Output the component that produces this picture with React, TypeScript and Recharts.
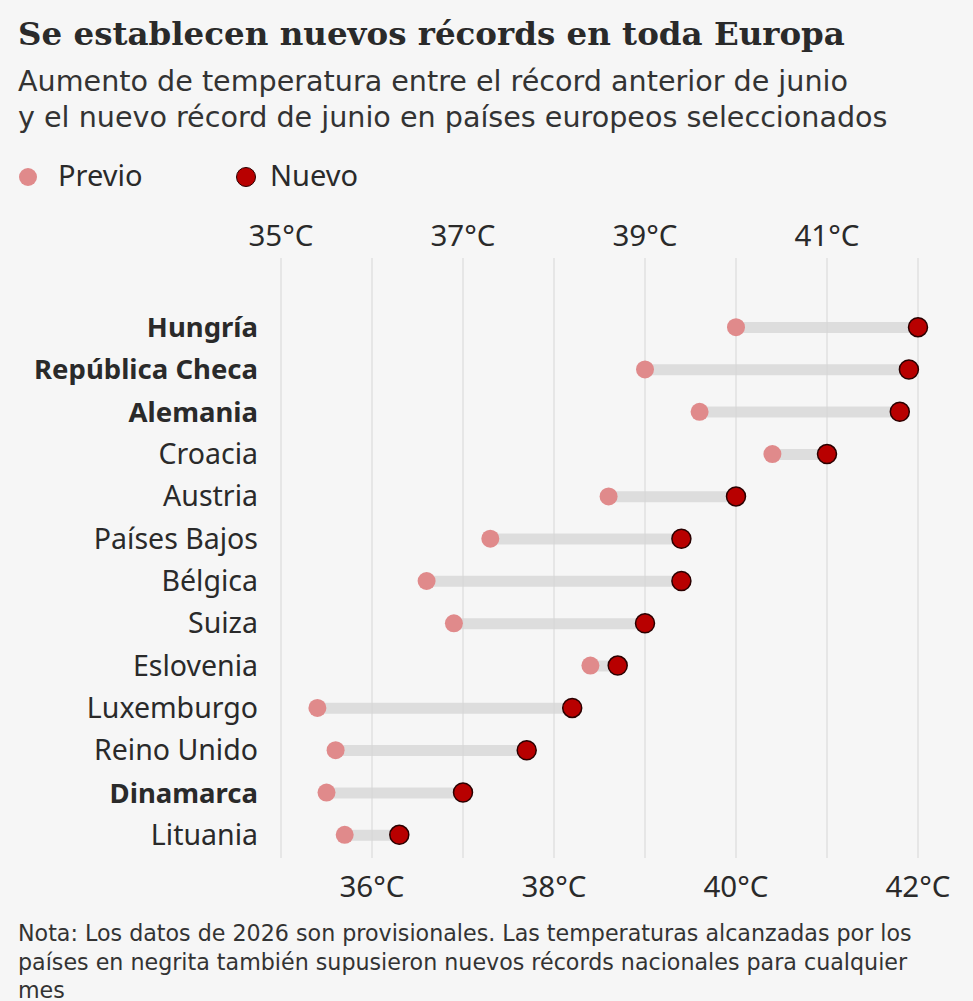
import React from "react";
import {
  ComposedChart,
  Bar,
  Line,
  XAxis,
  YAxis,
  ReferenceLine,
} from "recharts";

const countries = [
  "Hungría",
  "República Checa",
  "Alemania",
  "Croacia",
  "Austria",
  "Países Bajos",
  "Bélgica",
  "Suiza",
  "Eslovenia",
  "Luxemburgo",
  "Reino Unido",
  "Dinamarca",
  "Lituania",
];
const previousRecord = [40.0, 39.0, 39.6, 40.4, 38.6, 37.3, 36.6, 36.9, 38.4, 35.4, 35.6, 35.5, 35.7];
const newRecord = [42.0, 41.9, 41.8, 41.0, 40.0, 39.4, 39.4, 39.0, 38.7, 38.2, 37.7, 37.0, 36.3];
const boldCountries = ["Hungría", "República Checa", "Alemania", "Dinamarca"];

const topTicks = [35, 37, 39, 41];
const bottomTicks = [36, 38, 40, 42];
const gridTicks = [35, 36, 37, 38, 39, 40, 41, 42];

const data = countries.map((name, i) => ({
  name,
  prev: previousRecord[i],
  next: newRecord[i],
}));

const SANS = "'Noto Sans', 'Open Sans', sans-serif";
const WIDE_SANS = "'DejaVu Sans', 'Noto Sans', sans-serif";
const TEXT = "#2a2a2a";
const PREV_COLOR = "#e08a8b";
const NEW_COLOR = "#b80000";
const TICK_STYLE = { fontFamily: SANS, fontSize: 29.5, fill: TEXT };

function CountryTick({ x, y, payload }: any) {
  const bold = boldCountries.includes(payload.value);
  return (
    <text
      x={x}
      y={y}
      dy={10}
      textAnchor="end"
      fontFamily={SANS}
      fontSize={bold ? 27.5 : 28.5}
      fontWeight={bold ? 700 : 400}
      fill={TEXT}
    >
      {payload.value}
    </text>
  );
}

export default function App() {
  return (
    <div style={{ position: "relative", width: 973, height: 1001, background: "#f6f6f6", fontFamily: SANS, color: TEXT }}>
      <style>{"body{margin:0;background:#f6f6f6}"}</style>

      <div style={{ position: "absolute", left: 18, top: 15, fontFamily: "'DejaVu Serif', serif", fontWeight: 700, fontSize: 32.5, lineHeight: "38px", whiteSpace: "nowrap" }}>
        Se establecen nuevos récords en toda Europa
      </div>
      <div style={{ position: "absolute", left: 18, top: 63, fontFamily: WIDE_SANS, fontSize: 28.6, lineHeight: "36px", whiteSpace: "nowrap", color: "#333" }}>
        Aumento de temperatura entre el récord anterior de junio
        <br />
        y el nuevo récord de junio en países europeos seleccionados
      </div>

      {/* leyenda */}
      <div style={{ position: "absolute", left: 19, top: 168, width: 18, height: 18, borderRadius: "50%", background: PREV_COLOR }} />
      <div style={{ position: "absolute", left: 58, top: 160, fontSize: 29, lineHeight: "30px" }}>Previo</div>
      <div style={{ position: "absolute", left: 236, top: 167, width: 18, height: 18, borderRadius: "50%", background: NEW_COLOR, border: "1.5px solid #2a0000" }} />
      <div style={{ position: "absolute", left: 270, top: 160, fontSize: 29, lineHeight: "30px" }}>Nuevo</div>

      <div style={{ position: "absolute", left: 0, top: 200 }}>
        <ComposedChart
          width={973}
          height={710}
          data={data}
          layout="vertical"
          margin={{ top: 0, right: 55, bottom: 0, left: 0 }}
        >
          <XAxis
            xAxisId="top"
            type="number"
            orientation="top"
            domain={[35, 42]}
            ticks={topTicks}
            height={58}
            axisLine={false}
            tickLine={false}
            tickMargin={6}
            tickFormatter={(v) => `${v}°C`}
            tick={TICK_STYLE}
          />
          <XAxis
            xAxisId="bottom"
            type="number"
            orientation="bottom"
            domain={[35, 42]}
            ticks={bottomTicks}
            height={52}
            axisLine={false}
            tickLine={false}
            tickMargin={12}
            tickFormatter={(v) => `${v}°C`}
            tick={TICK_STYLE}
          />
          <YAxis
            type="category"
            dataKey="name"
            width={281}
            axisLine={false}
            tickLine={false}
            tickSize={0}
            tickMargin={23}
            interval={0}
            padding={{ top: 48, bottom: 2 }}
            tick={<CountryTick />}
          />
          {gridTicks.map((t) => (
            <ReferenceLine key={t} xAxisId="bottom" x={t} stroke="#d6d6d6" strokeWidth={1} />
          ))}
          <Bar
            xAxisId="bottom"
            dataKey={(d: any) => [d.prev, d.next]}
            barSize={11}
            fill="#dddddd"
            isAnimationActive={false}
          />
          <Line
            xAxisId="top"
            dataKey="prev"
            stroke="none"
            dot={{ r: 9, fill: PREV_COLOR, stroke: "none" }}
            activeDot={false}
            isAnimationActive={false}
          />
          <Line
            xAxisId="bottom"
            dataKey="next"
            stroke="none"
            dot={{ r: 9.5, fill: NEW_COLOR, stroke: "#2a0000", strokeWidth: 1.5 }}
            activeDot={false}
            isAnimationActive={false}
          />
        </ComposedChart>
      </div>

      <div style={{ position: "absolute", left: 18, top: 919, fontFamily: WIDE_SANS, fontSize: 22.2, lineHeight: "28.5px", whiteSpace: "nowrap", color: "#333" }}>
        Nota: Los datos de 2026 son provisionales. Las temperaturas alcanzadas por los
        <br />
        países en negrita también supusieron nuevos récords nacionales para cualquier
        <br />
        mes
      </div>
    </div>
  );
}
